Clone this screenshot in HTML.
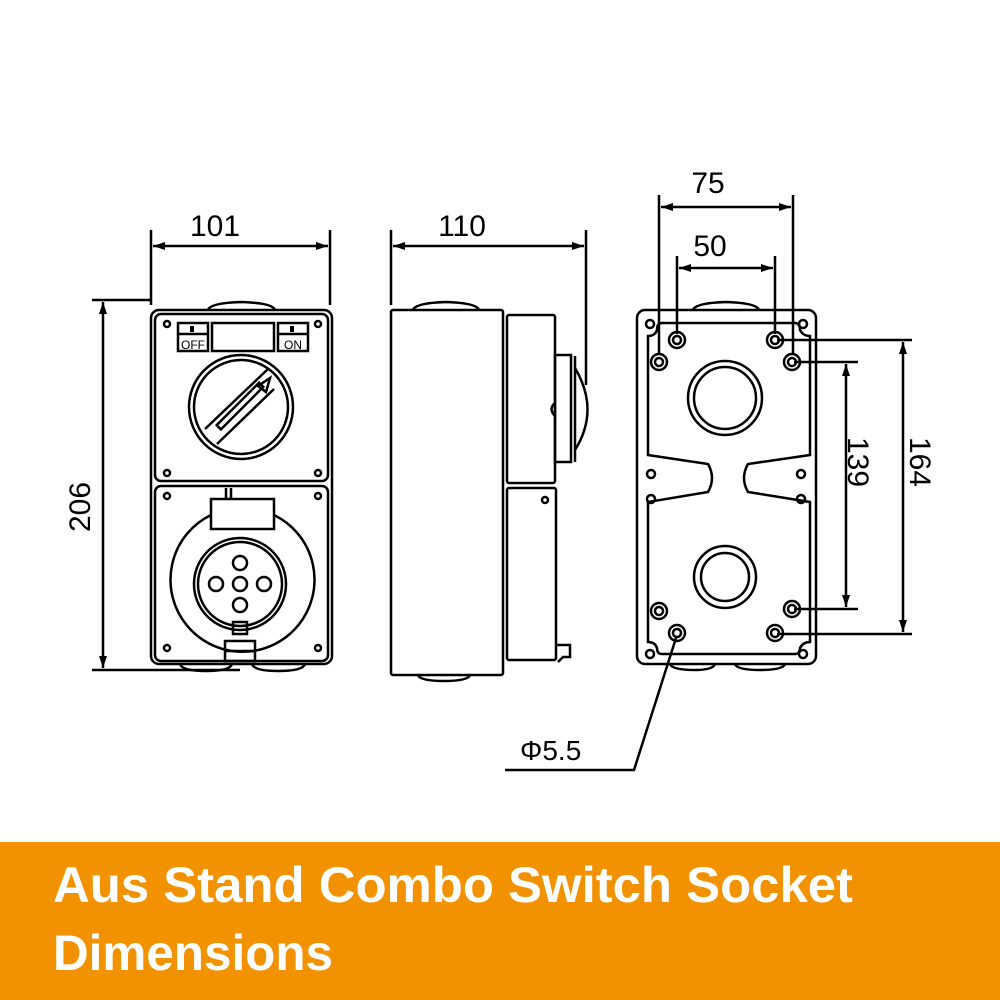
<!DOCTYPE html>
<html><head><meta charset="utf-8"><style>
html,body{margin:0;padding:0;background:#fff;}
svg{display:block}
</style></head><body>
<svg width="1000" height="1000" viewBox="0 0 1000 1000" xmlns="http://www.w3.org/2000/svg">
<defs>
<marker id="a" markerWidth="12" markerHeight="8" refX="12" refY="4" orient="auto-start-reverse" markerUnits="userSpaceOnUse"><path d="M0,0 L12,4 L0,8 z" fill="#000"/></marker>
</defs>
<g fill="none" stroke="#000" stroke-width="2.5" font-family="Liberation Sans, sans-serif">
<!-- FRONT VIEW -->
<path d="M208,310 Q210,303 241,302 Q273,303 275,310" />
<path d="M180,664 Q182,671 206,671 Q230,671 232,664 M252,664 Q254,671 278,671 Q303,671 305,664"/>
<rect x="151" y="310" width="181" height="354" rx="8"/>
<rect x="155" y="314" width="173" height="167" rx="6"/>
<rect x="155" y="486" width="173" height="175" rx="6"/>
<circle cx="167" cy="324" r="3"/><circle cx="318" cy="324" r="3"/>
<circle cx="167" cy="473" r="3"/><circle cx="318" cy="473" r="3"/>
<circle cx="167" cy="496" r="3"/><circle cx="318" cy="496" r="3"/>
<circle cx="167" cy="648" r="3"/><circle cx="318" cy="648" r="3"/>
<rect x="178" y="323" width="30" height="28"/><line x1="178" y1="334" x2="208" y2="334"/>
<rect x="212" y="323" width="62" height="28"/>
<rect x="278" y="323" width="30" height="28"/><line x1="278" y1="334" x2="308" y2="334"/>
<text x="193" y="349" font-size="12" fill="#000" stroke="none" text-anchor="middle">OFF</text>
<text x="293" y="349" font-size="12" fill="#000" stroke="none" text-anchor="middle">ON</text>
<rect x="190" y="326" width="4" height="6" fill="#000" stroke="none"/>
<rect x="290" y="326" width="4" height="6" fill="#000" stroke="none"/>
<circle cx="241" cy="407" r="52"/><circle cx="241" cy="407" r="47"/>
<path d="M205,429 L268,369 M217,444 L274,389"/>
<rect x="210" y="403" width="60" height="6" transform="rotate(-45 240 406)"/>
<path d="M258,386 L270,378 L266,392 z"/>
<rect x="211" y="499" width="63" height="30"/>
<line x1="226" y1="488" x2="226" y2="499"/><line x1="231" y1="488" x2="231" y2="499"/>
<path d="M211,515 A72,72 0 1 0 274,515"/>
<circle cx="240" cy="584" r="46"/>
<circle cx="240" cy="584" r="42"/>
<circle cx="240" cy="563" r="7"/><circle cx="216" cy="584" r="7"/><circle cx="240" cy="584" r="7"/><circle cx="264" cy="584" r="7"/><circle cx="240" cy="605" r="7"/>
<rect x="233" y="622" width="14" height="12"/>
<rect x="225" y="641" width="30" height="20"/><line x1="225" y1="651" x2="255" y2="651"/>
<!-- dims front -->
<path d="M151,230 V305 M330,230 V305"/>
<line x1="153" y1="246" x2="328" y2="246" marker-start="url(#a)" marker-end="url(#a)"/>
<path d="M92,300 H151 M92,670 H240"/>
<line x1="103" y1="302" x2="103" y2="668" marker-start="url(#a)" marker-end="url(#a)"/>
<!-- SIDE VIEW -->
<path d="M413,310 Q415,303 446,302 Q477,303 479,310"/>
<path d="M418,675 Q420,681 444,681 Q468,681 470,675"/>
<rect x="391" y="310" width="112" height="365" rx="2"/>
<rect x="507" y="315" width="48" height="168" rx="2"/>
<rect x="507" y="488" width="49" height="172" rx="2"/>
<circle cx="545" cy="500" r="3"/>
<rect x="555" y="355" width="16" height="107"/>
<line x1="575" y1="356" x2="575" y2="462"/>
<path d="M575,368 Q600,410 575,450"/>
<path d="M555,403 Q548,409 555,416"/>
<path d="M556,645 H570 V657 H563 L558,662"/>
<path d="M391,230 V305 M586,230 V385"/>
<line x1="393" y1="246" x2="584" y2="246" marker-start="url(#a)" marker-end="url(#a)"/>
<!-- BACK VIEW -->
<path d="M693,310 Q695,303 726,302 Q757,303 759,310"/>
<path d="M670,664 Q672,670 695,670 Q713,670 715,664 M735,664 Q737,670 760,670 Q783,670 785,664"/>
<rect x="637" y="310" width="179" height="354" rx="8"/>
<path d="M658,323 H795 Q800,323 800,330 Q803,336 810,336 V455 L748,464 Q740,478 748,492 L810,502 V642 Q803,642 800,648 Q800,654 795,654 H662 Q657,654 657,648 Q655,642 648,642 V502 L708,492 Q716,478 708,464 L648,455 V336 Q655,336 657,330 Q657,323 662,323 z"/>
<circle cx="650" cy="324" r="4"/><circle cx="803" cy="324" r="4"/><circle cx="650" cy="654" r="4"/><circle cx="803" cy="654" r="4"/>
<circle cx="651" cy="474" r="4"/><circle cx="651" cy="499" r="4"/><circle cx="801" cy="474" r="4"/><circle cx="801" cy="499" r="4"/>
<g>
<circle cx="677" cy="340" r="8"/><circle cx="677" cy="340" r="4"/>
<circle cx="775" cy="340" r="8"/><circle cx="775" cy="340" r="4"/>
<circle cx="659" cy="362" r="8"/><circle cx="659" cy="362" r="4"/>
<circle cx="792" cy="362" r="8"/><circle cx="792" cy="362" r="4"/>
<circle cx="659" cy="611" r="8"/><circle cx="659" cy="611" r="4"/>
<circle cx="792" cy="609" r="8"/><circle cx="792" cy="609" r="4"/>
<circle cx="677" cy="633" r="8"/><circle cx="677" cy="633" r="4"/>
<circle cx="775" cy="633" r="8"/><circle cx="775" cy="633" r="4"/>
</g>
<circle cx="725" cy="398" r="37"/><circle cx="725" cy="398" r="31"/>
<circle cx="725" cy="577" r="31"/><circle cx="725" cy="577" r="24"/>
<!-- back dims -->
<path d="M659,195 V355 M793,195 V355 M677,256 V334 M775,256 V334"/>
<line x1="661" y1="207" x2="791" y2="207" marker-start="url(#a)" marker-end="url(#a)"/>
<line x1="679" y1="268" x2="773" y2="268" marker-start="url(#a)" marker-end="url(#a)"/>
<path d="M777,340 H912 M794,362 H858 M794,609 H858 M777,634 H912"/>
<line x1="903" y1="342" x2="903" y2="632" marker-start="url(#a)" marker-end="url(#a)"/>
<line x1="846" y1="364" x2="846" y2="607" marker-start="url(#a)" marker-end="url(#a)"/>
<path d="M676,638 L634,770 H505"/>
</g>
<g font-family="Liberation Sans, DejaVu Sans, sans-serif" font-size="30" fill="#000">
<text x="215" y="236" text-anchor="middle">101</text>
<text x="462" y="236" text-anchor="middle">110</text>
<text x="708" y="193" text-anchor="middle">75</text>
<text x="710" y="256" text-anchor="middle">50</text>
<text transform="translate(90,507) rotate(-90)" text-anchor="middle">206</text>
<text transform="translate(848,462) rotate(90)" text-anchor="middle">139</text>
<text transform="translate(910,462) rotate(90)" text-anchor="middle">164</text>
<text x="520" y="760" font-size="28">Φ5.5</text>
</g>
<rect x="0" y="842" width="1000" height="158" fill="#F39200"/>
<g font-family="Liberation Sans, sans-serif" font-weight="bold" font-size="50" fill="#fff">
<text x="53" y="902" textLength="800" lengthAdjust="spacingAndGlyphs">Aus Stand Combo Switch Socket</text>
<text x="53" y="970" textLength="280" lengthAdjust="spacingAndGlyphs">Dimensions</text>
</g>
</svg>
</body></html>
